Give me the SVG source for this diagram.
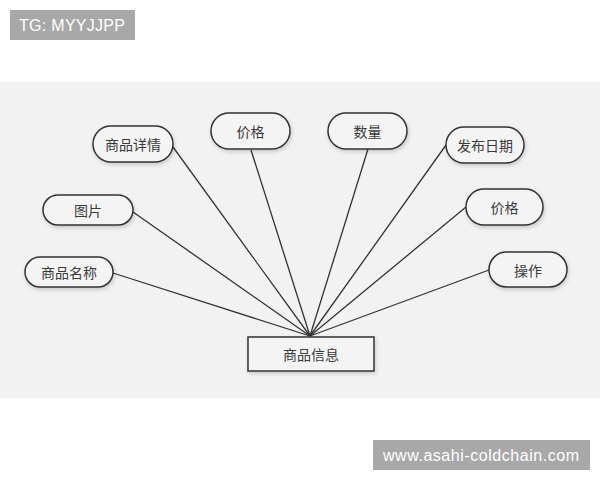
<svg xmlns="http://www.w3.org/2000/svg" width="600" height="480" viewBox="0 0 600 480">
<defs>
<filter id="sh" x="-20%" y="-30%" width="140%" height="160%">
<feGaussianBlur in="SourceAlpha" stdDeviation="2"/>
<feOffset dx="1" dy="2" result="b"/>
<feComponentTransfer><feFuncA type="linear" slope="0.18"/></feComponentTransfer>
<feMerge><feMergeNode/><feMergeNode in="SourceGraphic"/></feMerge>
</filter>
</defs>
<style>
.pill{fill:#f4f4f4;stroke:#333;stroke-width:1.5;filter:url(#sh)}
.box{fill:#f4f4f4;stroke:#333;stroke-width:1.5;filter:url(#sh)}
.t{font-family:"Noto Sans CJK SC","Liberation Sans",sans-serif;font-size:14px;fill:#3a3a3a;text-anchor:middle;dominant-baseline:central}
.lbl{fill:#a8a8a8}
.lt{font-family:"Liberation Sans","DejaVu Sans",sans-serif;fill:#fff;dominant-baseline:central}
#edges line{stroke:#333;stroke-width:1.3}
</style>
<rect width="600" height="480" fill="#fff"/>
<rect x="0" y="82" width="600" height="316" fill="#f2f2f2"/>
<g id="edges">
<line x1="173" y1="147" x2="310" y2="336"/>
<line x1="251" y1="150" x2="310" y2="336"/>
<line x1="133" y1="212" x2="310" y2="336"/>
<line x1="113" y1="273" x2="310" y2="336"/>
<line x1="368" y1="149" x2="310" y2="336"/>
<line x1="446" y1="145" x2="310" y2="336"/>
<line x1="466" y1="207" x2="310" y2="336"/>
<line x1="489" y1="270" x2="310" y2="336"/>
</g>
<g id="n-detail"><rect class="pill" x="93" y="126" width="80" height="36" rx="18"/><text class="t" x="133" y="144">商品详情</text></g>
<g id="n-price1"><rect class="pill" x="211" y="113" width="79" height="36" rx="18"/><text class="t" x="250.5" y="131">价格</text></g>
<g id="n-pic"><rect class="pill" x="43" y="195" width="90" height="30" rx="15"/><text class="t" x="88" y="210">图片</text></g>
<g id="n-name"><rect class="pill" x="25" y="257" width="88" height="30" rx="15"/><text class="t" x="69" y="272">商品名称</text></g>
<g id="n-qty"><rect class="pill" x="328" y="113" width="79" height="36" rx="18"/><text class="t" x="367.5" y="131">数量</text></g>
<g id="n-date"><rect class="pill" x="446" y="127" width="78" height="36" rx="18"/><text class="t" x="485" y="145">发布日期</text></g>
<g id="n-price2"><rect class="pill" x="466" y="189" width="77" height="36" rx="18"/><text class="t" x="504.5" y="207">价格</text></g>
<g id="n-op"><rect class="pill" x="489" y="252" width="78" height="35" rx="17.5"/><text class="t" x="528" y="269.5">操作</text></g>
<g id="n-info"><rect class="box" x="248" y="337" width="126" height="34"/><text class="t" x="311" y="354">商品信息</text></g>
<g id="tag-tg"><rect class="lbl" x="10" y="10" width="125" height="30"/><text class="lt" x="19" y="25" font-size="16" textLength="106" lengthAdjust="spacing">TG: MYYJJPP</text></g>
<g id="tag-web"><rect class="lbl" x="373" y="440" width="217" height="30"/><text class="lt" x="383" y="455" font-size="16" textLength="196" lengthAdjust="spacing">www.asahi-coldchain.com</text></g>
</svg>
